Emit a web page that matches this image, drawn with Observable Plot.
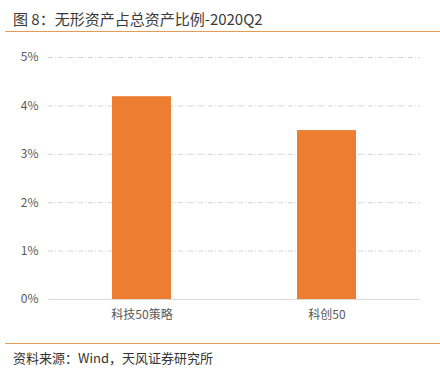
<!DOCTYPE html>
<html><head><meta charset="utf-8">
<script src="https://cdn.jsdelivr.net/npm/d3@7"></script>
<script src="https://cdn.jsdelivr.net/npm/@observablehq/plot@0.6"></script>
<style>
body{margin:0;background:#fff;font-family:"Microsoft YaHei","Noto Sans CJK SC",sans-serif;}
#wrap{position:relative;width:440px;height:373px;overflow:hidden;}
#title{position:absolute;left:13px;top:8px;font-size:15px;color:#3a3a3a;white-space:nowrap;}
.rule{position:absolute;left:5px;width:435px;height:1px;background:#E59A55;}
#chart{position:absolute;left:0;top:40px;}
#src{position:absolute;left:13px;top:348px;font-size:13px;color:#333;white-space:nowrap;}
</style></head>
<body><div id="wrap">
<div id="title">图 8：无形资产占总资产比例-2020Q2</div>
<div class="rule" style="top:31px"></div>
<div id="chart"></div>
<div class="rule" style="top:343px"></div>
<div id="src">资料来源：Wind，天风证券研究所</div>
</div>
<script>
const categories = ["科技50策略", "科创50"];
const values = [0.0419, 0.0349];
const yTicks = [0, 0.01, 0.02, 0.03, 0.04, 0.05];
const data = categories.map((c, i) => ({cat: c, v: values[i]}));
const chart = Plot.plot({
  width: 440, height: 290,
  marginLeft: 48, marginRight: 20, marginTop: 17, marginBottom: 31,
  style: {fontFamily: '"Microsoft YaHei","Noto Sans CJK SC",sans-serif', fontSize: "12px", color: "#595959", background: "#fff"},
  x: {domain: categories, paddingInner: 0.683, paddingOuter: 0.342, label: null, tickSize: 0, tickPadding: 11},
  y: {domain: [0, 0.05], ticks: yTicks, tickFormat: d => Math.round(d * 100) + "%", label: null, tickSize: 0, tickPadding: 10},
  marks: [
    Plot.gridY(yTicks.filter(t => t > 0), {stroke: "#d4d4d4", strokeOpacity: 1, strokeDasharray: "5,2,1,2"}),
    Plot.barY(data, {x: "cat", y: "v", fill: "#ED7D31"}),
    Plot.ruleY([0], {stroke: "#d9d9d9"})
  ]
});
document.getElementById("chart").appendChild(chart);
</script>
</body></html>
